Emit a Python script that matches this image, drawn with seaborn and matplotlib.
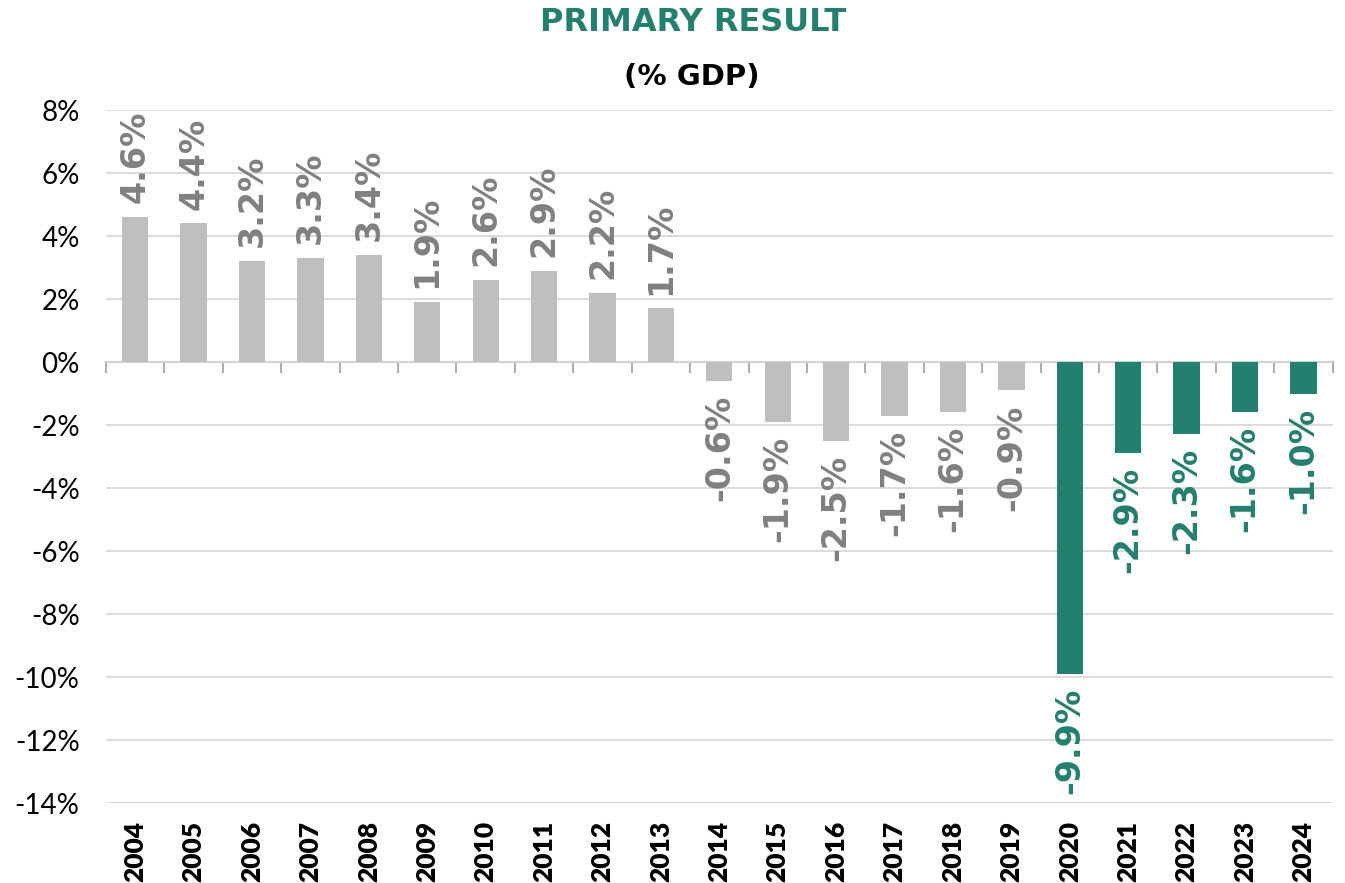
import matplotlib
matplotlib.use("Agg")
import matplotlib.pyplot as plt
import seaborn as sns
import pandas as pd
import numpy as np

# Primary result as a share of GDP, by year
years = [str(y) for y in range(2004, 2025)]
values = [4.6, 4.4, 3.2, 3.3, 3.4, 1.9, 2.6, 2.9, 2.2, 1.7,
          -0.6, -1.9, -2.5, -1.7, -1.6, -0.9,
          -9.9, -2.9, -2.3, -1.6, -1.0]
groups = ["past"] * 16 + ["recent"] * 5
y_ticks = list(range(-14, 9, 2))

GREY_BAR = "#BFBFBF"
GREY_TXT = "#808080"
GREEN = "#237F6E"
bar_colors = {"past": GREY_BAR, "recent": GREEN}
text_colors = {"past": GREY_TXT, "recent": GREEN}

df = pd.DataFrame({"year": years, "value": values, "group": groups})

sns.set_theme(style="white")
plt.rcParams["font.family"] = ["Lato", "DejaVu Sans"]

fig = plt.figure(figsize=(13.45, 8.83), dpi=100)
ax = fig.add_axes([0.0788, 0.0906, 0.912, 0.7848])

sns.barplot(data=df, x="year", y="value", hue="group", palette=bar_colors,
            dodge=False, width=0.45, legend=False, saturation=1,
            linewidth=0, ax=ax, zorder=3)

ax.set_ylim(-14, 8)
ax.set_xlim(-0.5, len(years) - 0.5)
ax.set_yticks(y_ticks)
ax.set_yticklabels([f"{t}%" for t in y_ticks], fontsize=20, color="black")
ax.tick_params(axis="y", length=0, pad=19)
ax.grid(axis="y", color="#D9D9D9", linewidth=1.3, zorder=0)
ax.set_axisbelow(True)
for s in ax.spines.values():
    s.set_visible(False)

# Year labels along the bottom
ax.set_xticks(range(len(years)))
ax.set_xticklabels(years, rotation=90, fontsize=19, fontweight="heavy", color="black")
ax.tick_params(axis="x", length=0, pad=13)
ax.set_xlabel("")
ax.set_ylabel("")

# Category axis drawn through zero with ticks between bars
zero_axis = ax.secondary_xaxis(0, transform=ax.transData)
zero_axis.set_xticks(np.arange(len(years) + 1) - 0.5)
zero_axis.set_xticklabels([])
zero_axis.tick_params(axis="x", length=8, width=1.3, color="#A6A6A6", direction="out")
zero_axis.spines["bottom"].set_color("#A6A6A6")
zero_axis.spines["bottom"].set_linewidth(1.5)
for k in ("top", "left", "right"):
    zero_axis.spines[k].set_visible(False)

# Value labels beyond each bar end
for i, (v, g) in enumerate(zip(values, groups)):
    ax.annotate(f"{v:.1f}%", xy=(i, v), xytext=(0, 10 if v >= 0 else -10),
                textcoords="offset points", rotation=90, ha="center",
                va="bottom" if v >= 0 else "top", fontsize=24, fontweight="bold",
                color=text_colors[g], family="DejaVu Sans", zorder=4)

fig.text(0.515, 0.975, "PRIMARY RESULT", ha="center", va="center",
         fontsize=23, fontweight="bold", color=GREEN, family="DejaVu Sans")
fig.text(0.514, 0.913, "(% GDP)", ha="center", va="center",
         fontsize=21, fontweight="bold", color="black", family="DejaVu Sans")

fig.savefig("out.png", dpi=100)
